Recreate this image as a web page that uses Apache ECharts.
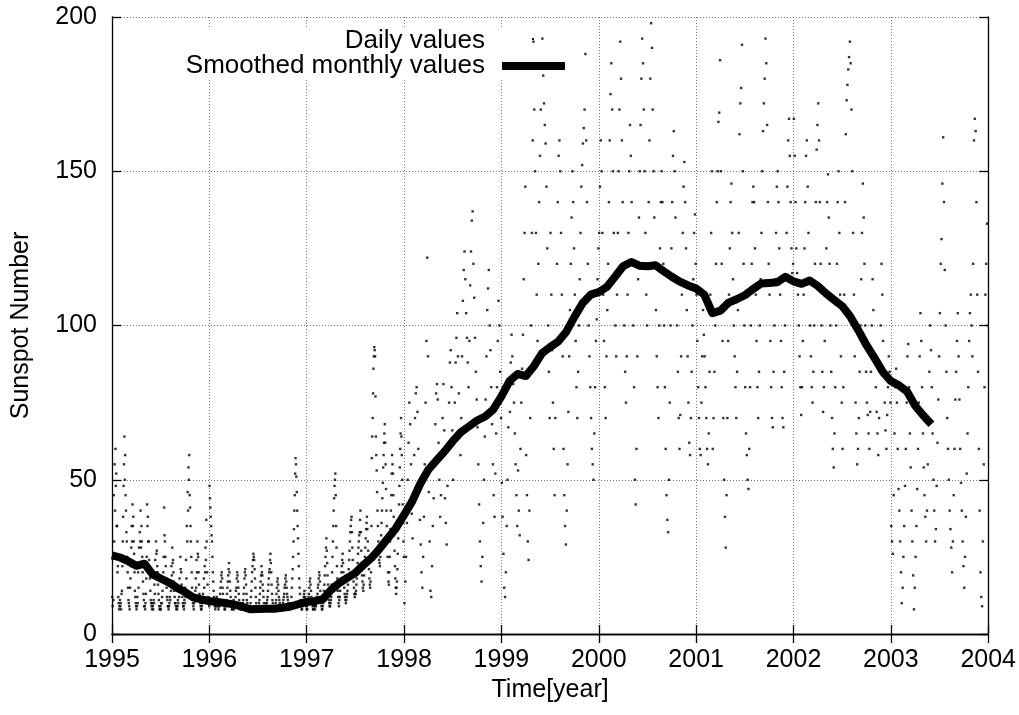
<!DOCTYPE html>
<html>
<head>
<meta charset="utf-8">
<script src="https://cdn.jsdelivr.net/npm/echarts/dist/echarts.min.js"></script>
<style>
html,body{margin:0;padding:0;background:#fff;}
#chart{width:1019px;height:715px;}
</style>
</head>
<body>
<div id="chart"></div>
<script>
// ---- data ----
const years = [1995, 1996, 1997, 1998, 1999, 2000, 2001, 2002, 2003];
const xAxisLabels = ['1995','1996','1997','1998','1999','2000','2001','2002','2003','2004'];
const yAxisLabels = ['0','50','100','150','200'];

// daily values, Jan..Dec; 1995-1997 sampled 20 times per month, later years 10 times per month
const daily1995 = [
12,9,25,11,45,30,55,40,60,48,52,35,35,20,22,12,10,8,9,11,
9,10,8,13,14,22,30,38,48,55,64,50,58,45,40,33,30,25,20,15,
11,10,9,8,15,18,22,28,35,30,42,35,38,30,26,20,14,12,10,9,
8,9,12,10,20,15,28,22,33,30,40,28,35,30,25,20,17,13,11,9,
9,8,10,13,18,25,42,35,38,30,30,24,22,18,14,11,10,9,8,10,
9,8,11,10,16,13,24,20,30,26,27,22,20,16,13,11,9,8,8,9,
8,10,10,12,14,17,20,25,41,32,30,25,22,18,15,12,11,9,9,8,
9,10,12,11,17,14,22,19,28,23,24,20,17,14,12,10,10,9,8,9,
8,9,11,10,14,12,18,15,25,21,20,16,14,12,10,9,9,8,11,10,
15,12,24,18,35,30,46,40,54,50,58,45,41,35,30,25,20,15,12,10,
9,8,10,11,12,14,18,15,24,20,30,26,25,20,16,13,11,10,9,8,
8,9,10,12,13,11,18,15,22,20,28,24,37,30,20,16,12,10,10,9];
const daily1996 = [
48,44,41,38,35,32,30,25,20,17,14,12,10,9,8,9,9,11,12,10,
10,9,8,9,9,11,13,15,17,19,20,18,15,13,11,10,9,8,8,9,
9,10,11,13,15,17,19,21,23,20,17,14,12,10,9,8,8,9,10,11,
8,9,9,10,12,14,15,18,20,19,17,15,13,11,10,9,8,8,9,10,
9,9,10,11,13,15,18,20,21,19,16,13,11,10,9,8,8,8,8,9,
9,10,12,14,17,20,22,24,26,25,24,21,18,15,12,10,9,8,8,9,
8,9,10,11,13,15,17,19,22,20,19,16,14,12,10,9,8,8,9,10,
9,10,11,12,14,16,18,20,21,24,26,23,20,16,13,11,10,9,8,8,
8,8,9,10,11,13,15,17,18,16,14,12,11,10,9,8,8,8,9,9,
9,10,11,12,13,15,16,18,19,17,15,13,12,11,10,9,8,8,9,10,
9,10,12,15,18,21,25,30,34,40,45,52,57,55,51,46,40,35,31,26,
22,18,15,13,11,10,9,8,8,9,10,11,12,13,14,12,11,10,9,8];
const daily1997 = [
9,8,10,11,12,13,15,17,18,16,14,12,11,10,9,8,8,9,10,11,
8,9,9,10,11,12,13,15,16,18,20,19,17,14,12,10,9,8,8,9,
10,12,14,16,19,22,25,28,31,27,23,19,16,13,11,10,9,9,10,11,
12,16,20,25,30,35,40,44,48,50,52,45,35,28,22,18,14,12,10,9,
11,12,14,16,18,20,22,24,26,23,20,17,15,13,12,11,10,11,12,13,
14,16,18,21,24,27,30,33,35,37,38,33,28,24,20,17,15,13,12,13,
13,14,16,18,21,23,26,28,30,32,33,37,40,33,27,23,19,17,15,14,
16,19,22,25,28,31,34,36,38,34,30,27,24,21,18,16,15,17,20,35,
57,64,70,78,86,90,93,92,90,77,64,58,53,46,40,35,30,27,24,23,
22,25,28,32,36,40,44,49,54,58,62,65,68,62,55,47,40,35,30,25,
20,17,16,20,25,30,34,40,45,52,58,55,52,45,38,32,27,22,18,15,
13,15,17,21,26,31,36,42,48,54,60,65,70,64,58,50,42,36,30,25];
const daily1998 = [
10,17,25,36,50,62,75,68,55,39,
31,45,58,70,78,80,72,60,48,37,
29,20,15,25,38,55,75,95,122,90,
46,30,14,12,22,35,44,55,68,78,
81,76,62,50,38,45,58,70,81,66,
44,36,29,48,62,75,88,92,80,66,
50,62,75,88,96,104,90,78,66,58,
70,90,108,118,124,115,104,96,88,80,
95,113,124,134,137,120,109,96,85,76,
67,55,42,30,22,17,25,36,50,64,
76,90,105,112,118,100,92,80,68,55,
45,38,52,65,80,95,108,100,85,70];
const daily1999 = [
49,38,26,15,12,20,35,50,67,80,
72,88,97,90,81,75,65,55,45,35,
53,40,32,60,75,86,97,115,130,145,
58,45,30,24,40,70,100,130,160,192,
170,150,130,110,95,120,140,155,170,185,
193,181,172,165,159,145,125,100,85,70,
130,110,92,75,60,45,70,95,120,140,
155,160,150,130,110,90,60,45,35,29,
40,55,72,90,105,120,135,150,140,125,
110,95,80,70,85,100,115,130,145,152,
159,164,170,188,160,140,120,100,90,80,
70,60,55,50,65,80,95,102,115,125];
const daily2000 = [
130,145,160,150,130,110,95,80,70,90,
105,120,140,160,175,185,170,150,130,115,
100,90,110,130,150,170,192,180,160,140,
120,100,85,75,90,110,130,150,165,155,
140,120,100,80,50,42,60,90,115,135,
150,165,180,193,185,170,150,130,110,100,
120,140,160,180,198,190,170,150,135,120,
105,90,80,70,100,125,140,150,140,120,
100,80,60,45,37,33,50,75,100,125,
140,155,163,150,135,115,100,85,70,60,
71,90,110,130,145,153,140,125,105,90,
75,62,58,70,85,100,115,130,136,120];
const daily2001 = [
110,95,80,70,60,58,75,90,105,97,
90,80,70,60,55,65,85,110,130,150,
60,70,85,100,120,140,150,166,169,186,
150,120,95,70,50,38,28,45,70,95,
110,125,140,146,130,115,100,90,80,70,
85,105,130,162,172,177,191,150,120,100,
80,65,58,50,47,60,80,100,120,140,
145,140,125,110,95,80,70,85,100,115,
130,150,163,172,180,193,185,165,140,120,
110,95,80,70,67,85,100,115,130,145,
150,140,125,110,95,80,70,67,85,100,
115,130,145,160,167,155,140,125,117,120];
const daily2002 = [
167,155,140,125,117,110,100,90,80,71,
80,95,110,125,140,155,160,145,130,115,
100,90,80,75,85,100,120,140,157,165,
172,160,140,120,100,85,72,80,95,110,
125,140,149,135,120,100,85,70,60,54,
65,80,100,120,140,150,130,110,90,75,
60,80,110,140,162,173,178,183,187,192,
185,170,150,130,110,90,75,65,55,60,
70,85,100,115,130,146,135,120,100,85,
75,71,65,60,72,85,100,115,105,90,
90,80,72,65,58,70,85,100,120,110,
95,85,75,66,60,71,80,90,85,75];
const daily2003 = [
35,30,26,45,65,80,86,75,60,47,
40,30,20,10,15,25,35,48,60,75,
90,94,80,65,54,40,30,19,8,15,
25,35,47,60,75,90,104,95,80,65,
54,45,38,30,40,55,70,85,100,92,
80,65,50,40,30,34,48,62,76,90,
104,120,128,146,161,140,118,100,85,70,
60,50,40,34,28,20,30,45,60,76,
85,95,104,90,76,60,49,40,30,22,
15,25,38,52,65,80,95,104,110,100,
90,120,160,167,163,140,110,85,60,40,
20,12,9,30,55,80,110,120,133,100];

// smoothed monthly values, one per month from Jan 1995
const smoothedMonthly = [
25.5,24.8,23.6,22.1,22.8,19.3,18.0,16.7,15.0,13.6,11.9,11.2,
10.7,10.4,10.0,9.6,8.9,8.0,8.1,8.2,8.2,8.5,8.9,9.7,
10.4,10.7,11.3,14.3,16.5,18.2,19.8,22.4,24.7,27.7,31.0,34.3,
38.6,43.0,48.7,53.3,56.3,59.2,62.5,65.4,67.3,69.2,70.5,72.8,
77.0,82.0,84.3,83.6,86.8,91.0,93.0,94.8,98.0,102.8,107.2,110.0,
110.8,112.5,115.8,119.2,120.6,119.4,119.2,119.5,117.6,115.8,114.2,113.0,
112.0,110.0,104.0,104.8,107.4,108.5,109.8,111.8,113.6,113.8,114.0,115.8,
114.3,113.5,114.6,112.8,110.4,108.3,106.3,102.9,98.4,93.6,89.4,85.0,
82.0,80.6,78.6,74.0,70.8,68.0];

// ---- build series points (x = date in fractional years) ----
const dailyByYear = [daily1995, daily1996, daily1997, daily1998, daily1999, daily2000, daily2001, daily2002, daily2003];
const dailyPoints = [];
dailyByYear.forEach(function (arr, yi) {
  const perMonth = arr.length / 12;
  arr.forEach(function (v, i) {
    const month = Math.floor(i / perMonth), k = i % perMonth;
    dailyPoints.push([years[yi] + (month + (k + 0.5) / perMonth) / 12, v]);
  });
});
const smoothedPoints = smoothedMonthly.map(function (v, i) { return [years[0] + i / 12, v]; });

const FONT = '"Liberation Sans", Arial, Helvetica, sans-serif';
const chart = echarts.init(document.getElementById('chart'), null, {renderer: 'canvas'});

const xLabelFmt = function (v) { const i = Math.round(v - 1995); return xAxisLabels[i] !== undefined ? xAxisLabels[i] : String(v); };
const yLabelFmt = function (v) { const i = Math.round(v / 50); return yAxisLabels[i] !== undefined ? yAxisLabels[i] : String(v); };

const gridLine = {show: true, lineStyle: {color: '#777', width: 1, type: [1, 2]}};
const axisLine = {show: true, lineStyle: {color: '#000', width: 1.3}};
const tick = {show: true, inside: true, length: 9, lineStyle: {color: '#000', width: 1.3}};

chart.setOption({
  animation: false,
  backgroundColor: '#fff',
  grid: {left: 112, right: 30, top: 17, bottom: 81, show: false},
  xAxis: [{
    type: 'value', min: 1995, max: 2004, interval: 1, position: 'bottom',
    axisLine: axisLine, axisTick: tick, splitLine: gridLine,
    axisLabel: {color: '#000', fontSize: 25, fontFamily: FONT, margin: 14, formatter: xLabelFmt},
    name: 'Time[year]', nameLocation: 'middle', nameGap: 43,
    nameTextStyle: {color: '#000', fontSize: 25, fontFamily: FONT}
  }, {
    type: 'value', min: 1995, max: 2004, interval: 1, position: 'top',
    axisLine: axisLine, axisTick: tick, splitLine: {show: false}, axisLabel: {show: false}
  }],
  yAxis: [{
    type: 'value', min: 0, max: 200, interval: 50, position: 'left',
    axisLine: axisLine, axisTick: tick, splitLine: gridLine,
    axisLabel: {color: '#000', fontSize: 25, fontFamily: FONT, margin: 15, formatter: yLabelFmt},
    name: 'Sunspot Number', nameLocation: 'middle', nameGap: 78, nameRotate: 90,
    nameTextStyle: {color: '#000', fontSize: 25, fontFamily: FONT}
  }, {
    type: 'value', min: 0, max: 200, interval: 50, position: 'right',
    axisLine: axisLine, axisTick: tick, splitLine: {show: false}, axisLabel: {show: false}
  }],
  graphic: [
    {type: 'rect', z: 1, silent: true, shape: {x: 180, y: 27, width: 390, height: 53}, style: {fill: '#fff'}},
    {type: 'text', z: 5, silent: true, style: {text: 'Daily values', x: 485, y: 41, align: 'right', textAlign: 'right', verticalAlign: 'middle', textVerticalAlign: 'middle', fontSize: 26, fontFamily: FONT, fill: '#000'}},
    {type: 'rect', z: 5, silent: true, shape: {x: 532, y: 38, width: 2, height: 2}, style: {fill: '#000'}},
    {type: 'text', z: 5, silent: true, style: {text: 'Smoothed monthly values', x: 485, y: 66, align: 'right', textAlign: 'right', verticalAlign: 'middle', textVerticalAlign: 'middle', fontSize: 26, fontFamily: FONT, fill: '#000'}},
    {type: 'line', z: 5, silent: true, shape: {x1: 502, y1: 66, x2: 565, y2: 66}, style: {stroke: '#000', lineWidth: 8}}
  ],
  series: [{
    name: 'Daily values', type: 'scatter', data: dailyPoints,
    symbol: 'rect', symbolSize: 2.4, itemStyle: {color: '#000'}, silent: true, z: 2
  }, {
    name: 'Smoothed monthly values', type: 'line', data: smoothedPoints,
    showSymbol: false, symbol: 'none', lineStyle: {color: '#000', width: 8, join: 'round'}, silent: true, z: 3
  }]
});
</script>
</body>
</html>
